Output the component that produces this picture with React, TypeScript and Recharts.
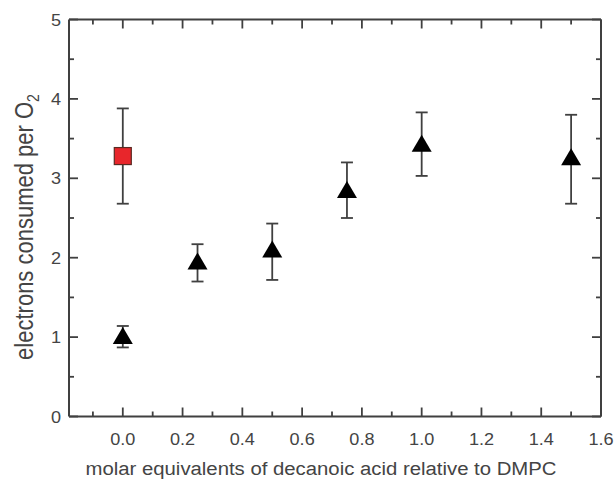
import React from "react";
import {
  ScatterChart,
  Scatter,
  XAxis,
  YAxis,
  ErrorBar,
  ReferenceLine
} from "recharts";

// black triangles: decanoic acid series
const triX = [0, 0.25, 0.5, 0.75, 1.0, 1.5];
const triY = [1.02, 1.96, 2.11, 2.86, 3.44, 3.27];
const triLow = [0.87, 1.7, 1.72, 2.5, 3.03, 2.68];
const triHigh = [1.14, 2.17, 2.43, 3.2, 3.83, 3.8];

// red square: reference point
const sqX = [0];
const sqY = [3.28];
const sqLow = [2.68];
const sqHigh = [3.88];

const xTicks = [-0.1, 0, 0.1, 0.2, 0.3, 0.4, 0.5, 0.6, 0.7, 0.8, 0.9, 1.0, 1.1, 1.2, 1.3, 1.4, 1.5, 1.6];
const xMajor = ["0.0", "0.2", "0.4", "0.6", "0.8", "1.0", "1.2", "1.4", "1.6"];
const yTicks = [0, 0.5, 1, 1.5, 2, 2.5, 3, 3.5, 4, 4.5, 5];
const yMajor = ["0", "1", "2", "3", "4", "5"];

const W = 616;
const H = 479;
const LEFT = 69;
const RIGHT = 15;
const TOP = 19.5;
const BOTTOM = 62.5;
const PLOT_W = W - LEFT - RIGHT;
const PLOT_H = H - TOP - BOTTOM;

const INK = "#404040";
const TXT = "#444";
const FONT = "'Liberation Sans', Arial, sans-serif";
const STRETCH = "scale(1.13,1)";

const build = (xs: number[], ys: number[], lo: number[], hi: number[]) =>
  xs.map((x, i) => ({ x, y: ys[i], err: [ys[i] - lo[i], hi[i] - ys[i]] }));

const triData = build(triX, triY, triLow, triHigh);
const sqData = build(sqX, sqY, sqLow, sqHigh);

const XTick = (props: any) => {
  const { x, y, payload } = props;
  const label = payload.value.toFixed(1);
  const major = xMajor.includes(label);
  const len = major ? 9 : 5;
  return (
    <g>
      <line x1={x} y1={y} x2={x} y2={y - len} stroke={INK} strokeWidth={1.8} />
      <line x1={x} y1={y - PLOT_H} x2={x} y2={y - PLOT_H + len} stroke={INK} strokeWidth={1.8} />
      {major && (
        <text
          transform={`translate(${x},${y + 28}) ${STRETCH}`}
          textAnchor="middle"
          fontSize={16}
          fontFamily={FONT}
          fill={TXT}
        >
          {label}
        </text>
      )}
    </g>
  );
};

const YTick = (props: any) => {
  const { x, y, payload } = props;
  const label = String(payload.value);
  const major = yMajor.includes(label);
  const len = major ? 9 : 5;
  return (
    <g>
      <line x1={x} y1={y} x2={x + len} y2={y} stroke={INK} strokeWidth={1.8} />
      <line x1={x + PLOT_W} y1={y} x2={x + PLOT_W - len} y2={y} stroke={INK} strokeWidth={1.8} />
      {major && (
        <text
          transform={`translate(${x - 8},${y + 6}) ${STRETCH}`}
          textAnchor="end"
          fontSize={16}
          fontFamily={FONT}
          fill={TXT}
        >
          {label}
        </text>
      )}
    </g>
  );
};

const Triangle = (props: any) => {
  const { cx, cy } = props;
  const w = 20;
  const h = 17;
  return (
    <polygon
      points={`${cx},${cy - h / 2} ${cx + w / 2},${cy + h / 2} ${cx - w / 2},${cy + h / 2}`}
      fill="#000"
    />
  );
};

const Square = (props: any) => {
  const { cx, cy } = props;
  const s = 17;
  return (
    <rect x={cx - s / 2} y={cy - s / 2} width={s} height={s} fill="#e8262b" stroke="#5a2a22" strokeWidth={1.2} />
  );
};

export default function App() {
  return (
    <div style={{ position: "fixed", left: 0, top: 0, background: "#fff" }}>
      <ScatterChart
        width={W}
        height={H}
        margin={{ top: TOP, right: RIGHT, left: 0, bottom: 0 }}
      >
        <XAxis
          type="number"
          dataKey="x"
          domain={[-0.18, 1.6]}
          allowDataOverflow
          ticks={xTicks}
          interval={0}
          height={BOTTOM}
          tickSize={0}
          tickMargin={0}
          tick={<XTick />}
          axisLine={{ stroke: INK, strokeWidth: 2 }}
          label={{
            content: () => (
              <text
                transform={`translate(321,475) ${STRETCH}`}
                textAnchor="middle"
                fontSize={18}
                fontFamily={FONT}
                fill={TXT}
              >
                molar equivalents of decanoic acid relative to DMPC
              </text>
            )
          }}
        />
        <YAxis
          type="number"
          dataKey="y"
          domain={[0, 5]}
          allowDataOverflow
          ticks={yTicks}
          interval={0}
          width={LEFT}
          tickSize={0}
          tickMargin={0}
          tick={<YTick />}
          axisLine={{ stroke: INK, strokeWidth: 2 }}
          label={{
            content: () => (
              <text
                transform={`translate(33,227) ${STRETCH} rotate(-90)`}
                textAnchor="middle"
                fontSize={22}
                fontFamily={FONT}
                fill={TXT}
              >
                electrons consumed per O
                <tspan fontSize={14} dy={5}>2</tspan>
              </text>
            )
          }}
        />
        <ReferenceLine y={5} stroke={INK} strokeWidth={2} />
        <ReferenceLine x={1.6} stroke={INK} strokeWidth={2} />
        <Scatter data={triData} shape={<Triangle />} isAnimationActive={false}>
          <ErrorBar dataKey="err" direction="y" width={6} stroke={INK} strokeWidth={1.8} />
        </Scatter>
        <Scatter data={sqData} shape={<Square />} isAnimationActive={false}>
          <ErrorBar dataKey="err" direction="y" width={6} stroke={INK} strokeWidth={1.8} />
        </Scatter>
      </ScatterChart>
    </div>
  );
}
